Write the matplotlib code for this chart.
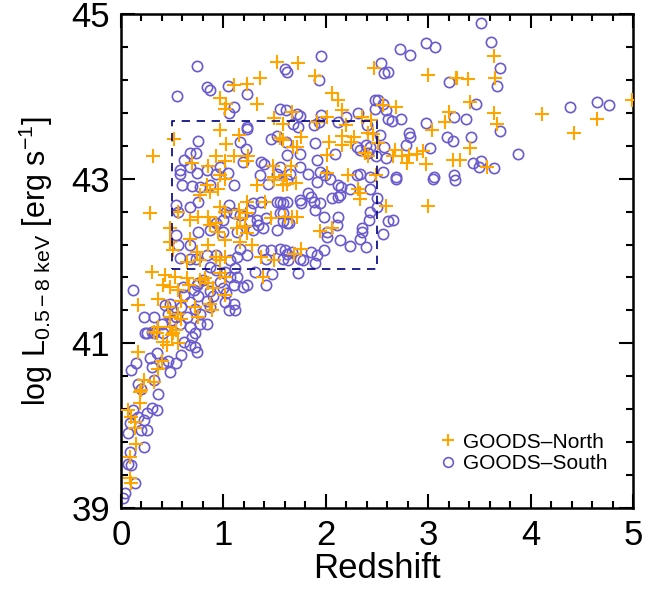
import matplotlib
matplotlib.use("Agg")
import matplotlib.pyplot as plt
import numpy as np
from matplotlib.ticker import MultipleLocator, FixedLocator
from matplotlib.lines import Line2D

plt.rcParams["font.family"] = ["Liberation Sans", "DejaVu Sans"]
plt.rcParams["mathtext.fontset"] = "custom"
plt.rcParams["mathtext.rm"] = "Liberation Sans"
plt.rcParams["mathtext.it"] = "Liberation Sans:italic"

# GOODS-North sources (redshift, log L 0.5-8 keV)
z_north = [
    1.52, 1.36, 1.23, 1.10, 0.97, 1.03, 1.02, 1.33, 1.49, 1.58, 0.97, 1.15, 1.03, 0.52, 0.31,
    0.93, 1.02, 1.10, 1.24, 1.23, 0.69, 0.85, 1.48, 1.55, 1.58, 0.97, 1.49, 1.60,
    1.73, 1.89, 2.47, 3.00, 3.27, 2.06, 2.12, 2.16, 2.56, 2.69, 3.20, 3.16, 3.04, 1.67, 2.01,
    2.20, 2.35, 2.44, 1.91, 1.76, 1.68, 1.72, 2.03, 2.16, 2.16, 2.28, 2.25, 2.41, 2.46, 2.51,
    2.38, 2.41, 2.01, 2.68, 2.66, 2.74, 2.81, 2.89, 2.95, 2.79, 2.98, 3.24, 1.66, 2.01, 2.22, 2.49,
    3.64, 3.28, 3.39, 3.65, 3.41, 3.64, 3.67, 4.11, 4.42, 4.65, 4.99, 3.41, 3.31, 3.57,
    0.28, 0.48, 0.48, 0.56, 0.51, 0.67, 0.75, 0.67, 0.74, 0.77, 0.64, 0.85, 0.87, 0.93, 0.95,
    0.85, 0.93, 0.97, 1.02, 1.02, 0.97, 1.02, 1.15, 1.16, 1.23, 1.13, 1.21, 1.23, 1.16, 1.28,
    1.23, 1.41, 1.33, 1.49, 1.58, 1.46, 1.60, 1.37, 1.49, 1.39, 0.84, 0.87, 0.95, 0.77, 1.02,
    0.30, 0.43, 0.41, 0.48, 0.53, 0.64, 0.66, 0.77, 0.82, 0.85, 0.90, 0.97, 1.02, 1.02, 0.56,
    0.59, 0.36, 0.17, 0.46, 0.48, 0.56, 0.59, 0.72, 0.75, 0.87, 0.89, 0.36, 0.35, 0.48, 0.51, 0.54,
    1.62, 1.71, 2.31, 2.33, 2.33, 2.59, 3.00, 1.67, 1.72, 1.94, 2.06, 1.76, 1.69,
    0.32, 0.50, 0.41, 0.45, 0.56, 0.17, 0.40, 0.36, 0.22, 0.32, 0.20, 0.19, 0.19, 0.07, 0.10,
    0.14, 0.14, 0.15, 0.09, 0.09, 0.10,
]
logl_north = [
    44.42, 44.22, 44.15, 44.14, 43.98, 43.91, 43.85, 43.91, 43.74, 43.67, 43.59, 43.53, 43.42, 43.48, 43.28,
    43.27, 43.22, 43.27, 43.27, 43.21, 43.19, 43.15, 43.15, 43.49, 43.47, 43.04, 43.02, 43.04,
    44.41, 44.25, 44.34, 44.26, 44.22, 44.04, 43.95, 43.84, 43.89, 43.87, 43.81, 43.69, 43.59, 43.81, 43.75,
    43.65, 43.75, 43.71, 43.69, 43.50, 43.39, 43.39, 43.44, 43.52, 43.41, 43.51, 43.44, 43.55, 43.54, 43.43,
    43.31, 43.27, 43.29, 43.35, 43.27, 43.27, 43.29, 43.30, 43.33, 43.19, 43.18, 43.23, 43.15, 43.07, 43.04, 43.04,
    44.49, 44.22, 44.21, 44.22, 43.93, 43.80, 43.67, 43.79, 43.55, 43.73, 43.95, 43.37, 43.23, 43.14,
    42.58, 42.40, 42.23, 42.60, 42.13, 42.50, 42.54, 42.27, 42.11, 42.01, 41.99, 42.54, 42.44, 42.46, 42.35,
    42.19, 42.05, 42.01, 42.05, 42.25, 42.66, 42.60, 42.62, 42.52, 42.58, 42.40, 42.42, 42.34, 42.23, 42.19,
    42.72, 42.72, 42.92, 42.98, 42.92, 42.52, 42.54, 42.05, 42.01, 41.81, 42.92, 42.84, 42.88, 42.80, 43.00,
    41.87, 41.83, 41.71, 41.69, 41.81, 41.79, 41.71, 41.77, 41.79, 41.73, 41.67, 41.85, 41.81, 41.59, 41.65,
    41.52, 41.54, 41.46, 41.44, 41.32, 41.36, 41.30, 41.44, 41.32, 41.48, 41.40, 41.20, 41.12, 41.20, 41.12, 41.16,
    42.93, 42.95, 42.88, 42.82, 42.75, 42.67, 42.67, 42.53, 42.54, 42.37, 42.40, 42.15, 42.08,
    41.14, 41.10, 41.02, 40.98, 41.00, 40.90, 40.78, 40.69, 40.55, 40.53, 40.43, 40.41, 40.27, 40.19, 40.11,
    40.05, 39.97, 39.78, 39.62, 39.36, 39.30,
]

# GOODS-South sources
z_south = [
    0.74, 0.55, 0.84, 0.87, 1.04, 1.23, 1.10, 1.05, 1.55, 1.61, 1.60, 1.62, 1.23, 1.23, 1.16,
    1.22, 0.75, 0.67, 0.73, 0.62, 0.58, 0.58, 0.74, 0.67, 0.84, 0.97, 1.04, 0.93, 1.19, 1.37,
    1.40, 1.46, 1.52, 1.61, 1.62, 1.55, 1.36, 1.52,
    1.95, 1.93, 2.54, 2.57, 2.61, 2.72, 2.82, 2.98, 3.07, 3.20, 2.48, 2.51, 2.56, 2.48, 2.59,
    2.61, 2.65, 2.73, 2.98, 3.25, 3.18, 3.24, 2.81, 2.82, 2.78, 3.02, 2.31, 2.20, 1.95, 1.72,
    1.75, 1.73, 1.68, 1.88, 1.93, 2.12, 2.40, 2.53, 1.89, 1.75, 1.91, 2.09, 2.30, 2.33, 2.39,
    2.43, 2.41, 2.57, 2.49, 2.59, 1.75, 1.65, 1.83, 1.94, 1.99, 2.30, 2.33, 2.43, 2.56, 2.69,
    3.06, 3.25,
    3.52, 3.61, 3.70, 3.67, 3.47, 3.37, 3.70, 3.42, 3.88, 3.44, 3.52, 3.50, 3.64, 4.38, 4.65, 4.77,
    0.60, 0.69, 0.77, 0.87, 1.10, 1.44, 1.52, 1.58, 0.54, 0.56, 0.67, 0.75, 0.75, 0.54, 0.56,
    0.67, 0.58, 0.67, 0.73, 0.84, 1.05, 1.03, 1.00, 0.93, 0.87, 1.00, 1.13, 1.26, 1.33, 1.34,
    1.39, 1.29, 1.42, 1.52, 1.58, 1.62, 1.16, 1.23, 1.13, 1.39, 1.46, 1.42, 1.60, 1.62, 1.31,
    1.47, 1.42, 1.19, 1.23, 1.02, 1.06, 1.10, 0.97, 1.00, 1.03, 1.02, 1.10, 1.05, 1.11, 0.87,
    0.90, 0.84, 0.87, 0.74, 0.71, 0.75, 0.67, 0.72, 0.77, 0.61, 0.62, 0.59, 0.64, 0.67, 0.72,
    0.69, 0.54, 0.58, 0.48, 0.43, 0.46, 0.50, 0.40, 0.32, 0.22, 0.25, 0.32, 0.41, 0.12, 0.75,
    0.80, 0.87, 0.93, 0.93, 1.06, 1.11, 1.13, 0.77, 0.84, 1.10, 1.16, 1.26, 1.29, 1.37, 1.62,
    1.91, 2.04, 2.12, 2.15, 2.14, 2.24, 2.43, 2.69, 1.55, 1.62, 1.75, 1.76, 1.83, 1.86, 1.88,
    1.94, 2.06, 2.12, 2.50, 2.50, 2.43, 2.42, 2.35, 2.35, 2.33, 2.39, 2.24, 2.14, 2.12, 2.11,
    2.01, 1.98, 1.89, 2.01, 2.56, 2.61, 2.66, 1.55, 1.67, 1.58, 1.63, 1.75, 1.78, 1.86, 1.91,
    1.89, 1.98, 1.73, 1.55, 1.64, 1.58, 3.05, 3.26,
    0.23, 0.30, 0.62, 0.67, 0.72, 0.74, 0.59, 0.54, 0.48, 0.46, 0.41, 0.35, 0.28, 0.30, 0.10,
    0.15, 0.17, 0.20, 0.32, 0.36, 0.35, 0.30, 0.25, 0.22, 0.25, 0.20, 0.17, 0.12, 0.09, 0.07,
    0.22, 0.09, 0.07, 0.10, 0.14, 0.04, 0.02,
]
logl_south = [
    44.37, 44.00, 44.11, 44.08, 44.12, 44.03, 43.87, 43.80, 43.85, 43.83, 44.33, 44.30, 43.63, 43.60, 43.44,
    43.36, 43.46, 43.31, 43.31, 43.23, 43.10, 43.06, 43.07, 43.14, 43.10, 43.14, 43.07, 43.06, 43.20, 43.20,
    43.18, 43.48, 43.52, 43.44, 43.29, 43.14, 43.04, 43.06,
    44.49, 44.20, 44.40, 44.28, 44.29, 44.58, 44.50, 44.65, 44.60, 44.18, 43.96, 43.96, 43.91, 43.85, 43.83,
    43.73, 43.70, 43.73, 43.68, 43.75, 43.50, 43.46, 43.55, 43.51, 43.41, 43.37, 43.80, 43.75, 43.77, 43.79,
    43.76, 43.63, 43.67, 43.65, 43.69, 43.69, 43.65, 43.53, 43.43, 43.30, 43.23, 43.30, 43.39, 43.35, 43.41,
    43.39, 43.31, 43.39, 43.27, 43.25, 43.14, 43.06, 43.06, 43.08, 43.04, 43.04, 43.06, 43.02, 43.08, 43.02,
    43.02, 43.04,
    44.89, 44.66, 44.35, 44.13, 43.91, 43.73, 43.58, 43.50, 43.30, 43.19, 43.22, 43.14, 43.13, 43.87, 43.93, 43.89,
    42.92, 42.91, 42.90, 42.92, 42.92, 42.94, 42.72, 42.70, 42.68, 42.60, 42.66, 42.72, 42.35, 42.31, 42.19,
    42.19, 42.04, 42.03, 42.03, 42.07, 42.68, 42.60, 42.50, 42.46, 42.38, 42.35, 42.35, 42.48, 42.50, 42.44,
    42.40, 42.38, 42.52, 42.38, 42.58, 42.46, 42.15, 42.07, 42.05, 42.13, 42.13, 42.03, 42.13, 42.09, 41.87,
    41.84, 41.71, 41.69, 41.71, 41.87, 41.81, 41.71, 41.75, 41.67, 41.61, 41.50, 41.48, 41.40, 41.40, 41.63,
    41.57, 41.52, 41.44, 41.71, 41.65, 41.57, 41.50, 41.42, 41.36, 41.69, 41.59, 41.44, 41.32, 41.20, 41.12,
    41.08, 41.32, 41.24, 41.48, 41.46, 41.36, 41.28, 41.24, 41.32, 41.32, 41.12, 41.12, 41.12, 41.65, 41.73,
    41.77, 41.93, 41.89, 42.07, 42.01, 41.91, 41.81, 41.24, 41.24, 42.58, 42.56, 42.62, 42.70, 42.72, 42.98,
    42.96, 43.00, 42.92, 42.90, 42.80, 42.88, 42.88, 43.00, 42.72, 42.72, 42.74, 42.70, 42.82, 42.78, 42.72,
    42.71, 42.76, 42.78, 42.76, 42.66, 42.60, 42.50, 42.40, 42.35, 42.27, 42.17, 42.18, 42.26, 42.54, 42.44,
    42.35, 42.54, 42.62, 42.29, 42.33, 42.49, 42.50, 42.15, 42.11, 42.03, 42.01, 42.03, 42.01, 42.11, 42.07,
    41.97, 42.13, 41.86, 42.58, 42.46, 42.48, 43.00, 42.98,
    41.12, 41.14, 41.02, 40.98, 40.96, 40.90, 40.86, 40.76, 40.65, 40.78, 40.76, 40.88, 40.82, 40.71, 40.67,
    40.76, 40.51, 40.45, 40.55, 40.39, 40.19, 40.21, 40.15, 40.07, 39.95, 39.95, 40.11, 40.19, 40.03, 39.91,
    39.74, 39.68, 39.54, 39.52, 39.30, 39.18, 39.12,
]

# selection box
box_z = (0.5, 2.5)
box_l = (41.9, 43.7)

north_color = "#FFA500"
south_color = "#6A5ACD"

fig = plt.figure(figsize=(6.53, 5.96), dpi=100)
ax = fig.add_axes([0.1853, 0.1477, 0.7841, 0.8288])

ax.plot(z_south, logl_south, "o", ls="none", mfc="none", mec=south_color, ms=7.4, mew=1.2, zorder=2)
ax.plot(z_north, logl_north, "+", ls="none", color=north_color, ms=9.5, mew=1.5, zorder=3)

ax.plot([box_z[0], box_z[1], box_z[1], box_z[0], box_z[0]],
        [box_l[0], box_l[0], box_l[1], box_l[1], box_l[0]],
        ls=(0, (5, 4)), color="#000080", lw=1.2, zorder=4)

ax.set_xlim(0, 5)
ax.set_ylim(39, 45)
ax.xaxis.set_major_locator(MultipleLocator(1))
ax.xaxis.set_minor_locator(MultipleLocator(0.2))
ax.yaxis.set_major_locator(FixedLocator([39, 41, 43, 45]))
ax.yaxis.set_minor_locator(FixedLocator(np.arange(39, 45.01, 0.4)))

ax.tick_params(which="both", direction="in", top=True, right=True, width=1.5)
ax.tick_params(which="major", length=10, labelsize=25, pad=8)
ax.tick_params(which="minor", length=5)
for s in ax.spines.values():
    s.set_linewidth(1.8)

ax.set_xlabel("Redshift", fontsize=25, labelpad=0)
ax.set_ylabel(r"log L$_{\mathregular{0.5-8\ keV}}$ [erg s$^{\mathregular{-1}}$]", fontsize=22, labelpad=12)

handles = [
    Line2D([], [], marker="+", ls="none", color=north_color, ms=9, mew=1.5),
    Line2D([], [], marker="o", ls="none", mfc="none", mec=south_color, ms=7, mew=1.2),
]
ax.legend(handles, ["GOODS–North", "GOODS–South"], loc="lower right",
          bbox_to_anchor=(0.97, 0.05), frameon=False, fontsize=15,
          handletextpad=0.2, handlelength=1.0, labelspacing=0.1, borderpad=0)

fig.savefig("out.png", dpi=100)
